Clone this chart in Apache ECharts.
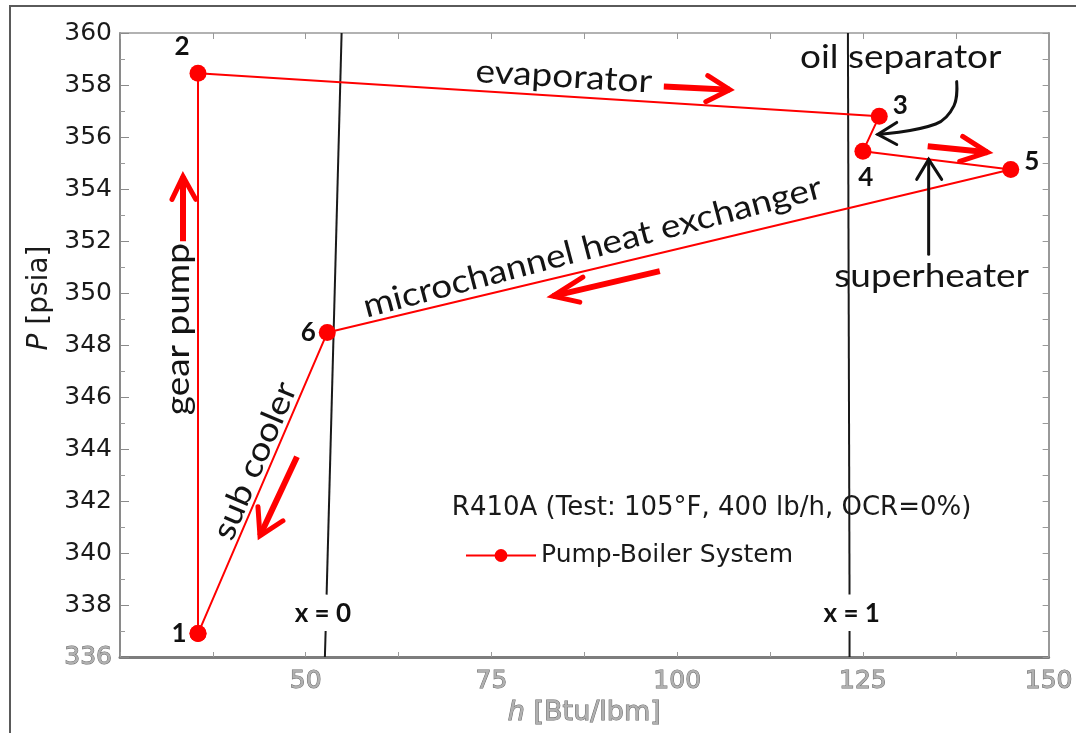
<!DOCTYPE html>
<html><head><meta charset="utf-8">
<script src="https://cdn.jsdelivr.net/npm/echarts@6/dist/echarts.min.js"></script>
<style>html,body{margin:0;padding:0;background:#fff}#c{width:1076px;height:733px}</style>
</head><body><div id="c"></div>
<script>
// ---- data ----
const stateLabels = ['1', '2', '3', '4', '5', '6'];
const enthalpy = [35.5, 35.5, 127.2, 125.0, 144.9, 52.9];      // h [Btu/lbm]
const pressure = [336.9, 358.45, 356.8, 355.45, 354.75, 348.48]; // P [psia]
const cycleOrder = [0, 1, 2, 3, 4, 5, 0];
const seriesName = 'Pump-Boiler System';
const testLabel = 'R410A (Test: 105°F, 400 lb/h, OCR=0%)';

// saturation lines (x = 0 liquid, x = 1 vapour), split around their labels
const satLiqLowH = [52.58, 52.68];
const satLiqLowP = [336, 337.0];
const satLiqHighH = [52.81, 54.83];
const satLiqHighP = [338.4, 360];
const satVapLowH = [123.2, 123.2];
const satVapLowP = [336, 337.0];
const satVapHighH = [123.2, 122.98];
const satVapHighP = [338.4, 360];

const xTickValues = [25, 50, 75, 100, 125, 150];
const yTickValues = [336, 338, 340, 342, 344, 346, 348, 350, 352, 354, 356, 358, 360];

// ---- presentation config ----
const labelPlacement = [
  {position: 'left', distance: 3},
  {position: 'top', offset: [-16, 0]},
  {position: 'right', offset: [0, -11]},
  {position: 'bottom', offset: [3, 0]},
  {position: 'right', offset: [0, -8]},
  {position: 'left', distance: 3}
];

const pairs = (hs, ps) => hs.map((h, i) => [h, ps[i]]);
const cycleData = cycleOrder.map((k, j) => {
  const item = {value: [enthalpy[k], pressure[k]]};
  if (j === cycleOrder.length - 1) item.label = {show: false};
  else item.label = Object.assign({show: true}, labelPlacement[k]);
  return item;
});

const gray = '#7d7d7d';
const grayLabel = {color: '#b0b0b0', textBorderColor: '#6a6a6a', textBorderWidth: 1};

function satSeries(data) {
  return {type: 'line', data: data, showSymbol: false, symbol: 'none', silent: true,
    lineStyle: {color: '#1a1a1a', width: 2}, z: 2, legendHoverLink: false, tooltip: {show: false}};
}

const option = {
  animation: false,
  backgroundColor: '#fff',
  grid: {left: 120, right: 27, top: 33, bottom: 76},
  legend: {
    data: [seriesName], left: 460, top: 538, itemWidth: 70, itemHeight: 16, itemGap: 4,
    textStyle: {fontFamily: 'DejaVu Sans', fontSize: 25, color: '#1a1a1a'}
  },
  xAxis: [{
    type: 'value', position: 'bottom', min: 25, max: 150, interval: 25,
    axisLine: {onZero: false, lineStyle: {color: gray, width: 3}},
    axisTick: {inside: true, length: 5, lineStyle: {color: '#999'}},
    minorTick: {show: true, splitNumber: 2, length: 5, lineStyle: {color: '#999'}},
    splitLine: {show: false},
    axisLabel: Object.assign({
      fontFamily: 'DejaVu Sans', fontSize: 25, margin: 12,
      formatter: v => (xTickValues.indexOf(v) > 0 ? String(v) : '')
    }, grayLabel),
    name: '{i|h} [Btu/lbm]', nameLocation: 'middle', nameGap: 42,
    nameTextStyle: Object.assign({fontFamily: 'DejaVu Sans', fontSize: 27,
      rich: {i: Object.assign({fontFamily: 'DejaVu Sans', fontSize: 27, fontStyle: 'italic'}, grayLabel)}}, grayLabel)
  }, {
    type: 'value', position: 'top', min: 25, max: 150, interval: 12.5,
    axisLine: {onZero: false, lineStyle: {color: '#999', width: 1.5}},
    axisTick: {inside: true, length: 6, lineStyle: {color: '#999'}},
    axisLabel: {show: false}, splitLine: {show: false}
  }],
  yAxis: [{
    type: 'value', position: 'left', min: 336, max: 360, interval: 2,
    axisLine: {show: true, onZero: false, lineStyle: {color: '#8a8a8a', width: 2}},
    axisTick: {inside: true, length: 9, lineStyle: {color: '#8a8a8a'}},
    minorTick: {show: true, splitNumber: 2, length: 5, lineStyle: {color: '#999'}},
    splitLine: {show: false},
    axisLabel: {
      fontFamily: 'DejaVu Sans', fontSize: 25, color: '#1a1a1a', margin: 8,
      formatter: v => (v === yTickValues[0] ? '{g|' + v + '}' : String(v)),
      rich: {g: Object.assign({fontFamily: 'DejaVu Sans', fontSize: 25}, grayLabel)}
    }
  }, {
    type: 'value', position: 'right', min: 336, max: 360, interval: 1,
    axisLine: {show: true, onZero: false, lineStyle: {color: '#999', width: 2}},
    axisTick: {inside: true, length: 6, lineStyle: {color: '#999'}},
    axisLabel: {show: false}, splitLine: {show: false}
  }],
  series: [
    {
      name: seriesName, type: 'line', xAxisIndex: 0, yAxisIndex: 0,
      data: cycleData, symbol: 'circle', symbolSize: 17, showSymbol: true,
      lineStyle: {color: '#ff0000', width: 2}, itemStyle: {color: '#ff0000'},
      label: {
        show: true, fontFamily: 'Lato', fontWeight: 'bold', fontSize: 26, color: '#111',
        formatter: p => stateLabels[cycleOrder[p.dataIndex]]
      },
      z: 5
    },
    satSeries(pairs(satLiqLowH, satLiqLowP)),
    satSeries(pairs(satLiqHighH, satLiqHighP)),
    satSeries(pairs(satVapLowH, satVapLowP)),
    satSeries(pairs(satVapHighH, satVapHighP))
  ]
};

const chart = echarts.init(document.getElementById('c'), null, {renderer: 'canvas'});
chart.setOption(option);

// ---- annotations (positioned in data coordinates) ----
const toPx = d => chart.convertToPixel({seriesIndex: 0}, d);
const SX = 1.12;
const annoTexts = [
  {t: 'evaporator', at: [84.74, 358.32], rot: -0.06},
  {t: 'oil separator', at: [130.09, 359.05], rot: 0},
  {t: 'superheater', at: [134.26, 350.64], rot: 0},
  {t: 'microchannel heat exchanger', at: [88.6, 351.76], rot: 0.257},
  {t: 'gear pump', at: [32.8, 348.61], rot: Math.PI / 2},
  {t: 'sub cooler', at: [43.16, 343.54], rot: 1.17}
];
const redArrows = [
  {tail: [33.48, 351.99], tip: [33.48, 354.48], arms: [[32.0, 353.6], [35.2, 353.6]]},
  {tail: [98.2, 357.94], tip: [107.08, 357.82], arms: [[104.12, 358.36], [103.85, 357.36]]},
  {tail: [97.66, 350.84], tip: [83.26, 349.88], arms: [[87.3, 350.61], [86.89, 349.65]]},
  {tail: [48.82, 343.7], tip: [43.84, 340.66], arms: [[43.57, 341.78], [46.93, 341.24]]},
  {tail: [133.72, 355.64], tip: [141.79, 355.41], arms: [[138.43, 356.02], [138.03, 355.06]]}
];
const blackArrows = [
  {path: [[133.85, 351.49], [133.85, 355.14]], arms: [[132.24, 354.37], [135.6, 354.37]]},
  {path: [[137.62, 358.13], [137.25, 357.2], [134.8, 356.5], [127.0, 356.1]], arms: [[129.55, 356.56], [129.55, 355.71]]}
];
const qualityLabels = [
  {t: 'x = 0', at: [52.3, 337.67]},
  {t: 'x = 1', at: [123.5, 337.67]}
];

const g = [];
// outer frame
g.push({type: 'polyline', shape: {points: [[10, 740], [10, 6], [1090, 6]]}, style: {stroke: '#5a5a5a', lineWidth: 2, fill: null}, silent: true});

annoTexts.forEach(a => {
  const p = toPx(a.at);
  g.push({type: 'text', x: p[0], y: p[1], rotation: a.rot, scaleX: SX, scaleY: 1, silent: true, z: 10,
    style: {text: a.t, fontFamily: 'Lato', fontSize: 33, fill: '#141414',
      align: 'center', verticalAlign: 'middle', textAlign: 'center', textVerticalAlign: 'middle'}});
});
redArrows.forEach(a => {
  const t = toPx(a.tip);
  g.push({type: 'polyline', silent: true, z: 9, shape: {points: [toPx(a.tail), t]},
    style: {stroke: '#ff0000', lineWidth: 6, fill: null, lineCap: 'butt'}});
  g.push({type: 'polyline', silent: true, z: 9, shape: {points: [toPx(a.arms[0]), t, toPx(a.arms[1])]},
    style: {stroke: '#ff0000', lineWidth: 5, fill: null, lineCap: 'round', lineJoin: 'miter'}});
});
blackArrows.forEach(a => {
  const pts = a.path.map(toPx);
  const t = pts[pts.length - 1];
  g.push({type: 'polyline', silent: true, z: 9, shape: {points: pts, smooth: a.path.length > 2 ? 0.4 : 0},
    style: {stroke: '#111', lineWidth: 3, fill: null, lineCap: 'round'}});
  g.push({type: 'polyline', silent: true, z: 9, shape: {points: [toPx(a.arms[0]), t, toPx(a.arms[1])]},
    style: {stroke: '#111', lineWidth: 3, fill: null, lineCap: 'round', lineJoin: 'miter'}});
});
qualityLabels.forEach(a => {
  const p = toPx(a.at);
  g.push({type: 'text', x: p[0], y: p[1], silent: true, z: 10,
    style: {text: a.t, fontFamily: 'Lato', fontWeight: 'bold', fontSize: 26, fill: '#111',
      align: 'center', verticalAlign: 'middle', textAlign: 'center', textVerticalAlign: 'middle'}});
});
// test condition caption
{
  const p = toPx([69.67, 341.74]);
  g.push({type: 'text', x: p[0], y: p[1], silent: true, z: 10,
    style: {text: testLabel, fontFamily: 'DejaVu Sans', fontSize: 26, fill: '#1a1a1a',
      align: 'left', verticalAlign: 'middle', textAlign: 'left', textVerticalAlign: 'middle'}});
}
// y-axis title
g.push({type: 'text', x: 40, y: 298, rotation: Math.PI / 2, silent: true, z: 10,
  style: {text: '{i|P} [psia]', fontFamily: 'DejaVu Sans', fontSize: 28, fill: '#1a1a1a',
    align: 'center', verticalAlign: 'middle', textAlign: 'center', textVerticalAlign: 'middle',
    rich: {i: {fontFamily: 'DejaVu Sans', fontSize: 28, fontStyle: 'italic', fill: '#1a1a1a', color: '#1a1a1a'}}}});

chart.setOption({graphic: g});
</script>
</body></html>
